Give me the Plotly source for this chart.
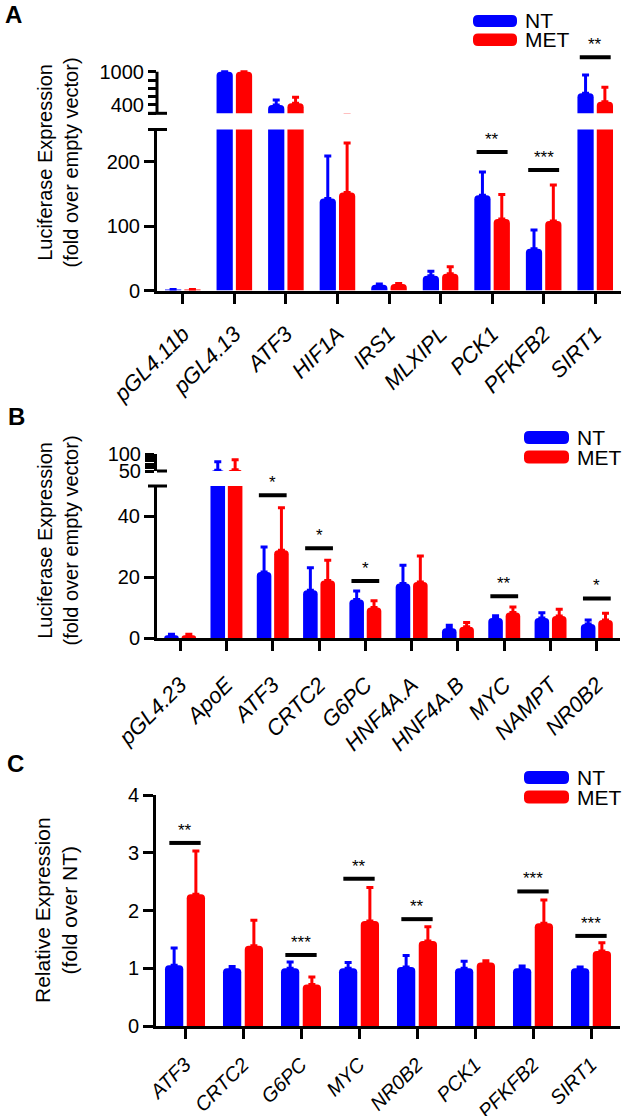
import plotly.graph_objects as go

W, H = 626, 1116
BLUE = '#0000FF'
RED = '#FF0000'
FONT = 'Liberation Sans, Arial, Helvetica, sans-serif'

# ---------------- Panel A data ----------------
cats_A = ['pGL4.11b', 'pGL4.13', 'ATF3', 'HIF1A', 'IRS1', 'MLXIPL', 'PCK1', 'PFKFB2', 'SIRT1']
nt_A = [1, 1000, 400, 143, 9, 23, 148, 65, 610]
nt_A_err = [0.5, None, 90, 66, 1, 7, 36, 29, 330]
met_A = [1, 1000, 430, 152, 10, 26, 111, 108, 459]
met_A_err = [0.5, None, 108, 77, 1, 11, 38, 56, 260]
sig_A_cats = ['PCK1', 'PFKFB2', 'SIRT1']
sig_A_y = [215, 187, 1260]
sig_A_text = ['**', '***', '**']

# ---------------- Panel B data ----------------
cats_B = ['pGL4.23', 'ApoE', 'ATF3', 'CRTC2', 'G6PC', 'HNF4A.A', 'HNF4A.B', 'MYC', 'NAMPT', 'NR0B2']
nt_B = [1, 52, 21.8, 15.8, 12.7, 18, 3.3, 6.7, 6.7, 4.7]
nt_B_err = [0.3, 25, 8.2, 7.4, 2.8, 6, 1, 0.7, 1.7, 1.3]
met_B = [1, 54, 28.9, 19, 10.1, 18.5, 3.8, 8.5, 7.3, 6]
met_B_err = [0.3, 29, 14, 6.6, 2.2, 8.5, 1.4, 1.8, 2.2, 2.2]
sig_B_cats = ['ATF3', 'CRTC2', 'G6PC', 'MYC', 'NR0B2']
sig_B_y = [47, 29.6, 18.8, 13.8, 13.1]
sig_B_text = ['*', '*', '*', '**', '*']

# ---------------- Panel C data ----------------
cats_C = ['ATF3', 'CRTC2', 'G6PC', 'MYC', 'NR0B2', 'PCK1', 'PFKFB2', 'SIRT1']
nt_C = [1.05, 1.0, 1.0, 1.0, 1.02, 1.0, 1.0, 1.0]
nt_C_err = [0.3, 0.03, 0.11, 0.1, 0.2, 0.12, 0.04, 0.02]
met_C = [2.28, 1.39, 0.72, 1.82, 1.47, 1.1, 1.78, 1.3]
met_C_err = [0.75, 0.44, 0.13, 0.58, 0.25, 0.03, 0.4, 0.14]
sig_C_cats = ['ATF3', 'G6PC', 'MYC', 'NR0B2', 'PFKFB2', 'SIRT1']
sig_C_y = [3.17, 1.23, 2.55, 1.85, 2.33, 1.56]
sig_C_text = ['**', '***', '**', '**', '***', '***']

series_names = ['NT', 'MET']


def X(p):
    return p / W


def Y(p):
    return 1 - p / H


fig = go.Figure()


def add_bars(cats, nt, nt_err, met, met_err, xa, ya):
    for name, vals, err, col in [(series_names[0], nt, nt_err, BLUE),
                                 (series_names[1], met, met_err, RED)]:
        fig.add_trace(go.Bar(
            x=cats, y=vals, name=name,
            marker=dict(color=col, line=dict(width=0)),
            error_y=dict(type='data', symmetric=False, array=err,
                         arrayminus=[0] * len(err), color=col,
                         thickness=3, width=3.5),
            xaxis=xa, yaxis=ya, showlegend=False))


# Panel A: lower (y) and upper (y2) segments of broken axis
add_bars(cats_A, nt_A, nt_A_err, met_A, met_A_err, 'x', 'y')
add_bars(cats_A, nt_A, nt_A_err, met_A, met_A_err, 'x', 'y2')
# Panel B: lower (y3) and upper (y4)
add_bars(cats_B, nt_B, nt_B_err, met_B, met_B_err, 'x2', 'y3')
add_bars(cats_B, nt_B, nt_B_err, met_B, met_B_err, 'x2', 'y4')
# Panel C
add_bars(cats_C, nt_C, nt_C_err, met_C, met_C_err, 'x3', 'y5')

axis_common = dict(showgrid=False, zeroline=False, linecolor='black', linewidth=3, automargin=False,
                   ticks='outside', tickcolor='black', tickwidth=3, ticklen=10,
                   tickfont=dict(family=FONT, size=20, color='black'))


def xfont(size):
    return dict(family=FONT, size=size, color='black', style='italic')


xcommon = dict(axis_common, type='category', showline=True, tickangle=-45)

fig.update_layout(
    template='none',
    width=W, height=H, autosize=False,
    margin=dict(l=0, r=0, t=0, b=0, pad=0),
    paper_bgcolor='white', plot_bgcolor='white',
    barmode='group', bargap=0.25, bargroupgap=0.16, barcornerradius=4,
    showlegend=False,
    font=dict(family=FONT, color='black'),
    xaxis=dict(xcommon, domain=[X(157), X(621)], anchor='y', range=[-0.5, 8.5],
               tickfont=xfont(22), ticklabelstandoff=9),
    yaxis=dict(axis_common, domain=[Y(290.5), Y(129.5)], anchor='x', range=[0, 250],
               showline=True, tickvals=[0, 100, 200]),
    yaxis2=dict(axis_common, domain=[Y(113.3), Y(40)], anchor='x',
                range=[250, 250 + (113.3 - 40) * 18.03], showline=False, ticklen=8,
                tickvals=[250, 400, 550, 700, 850, 1000],
                ticktext=['', '400', '', '', '', '1000']),
    xaxis2=dict(xcommon, domain=[X(157), X(620)], anchor='y3', range=[-0.5, 9.5],
                tickfont=xfont(22), ticklabelstandoff=12),
    yaxis3=dict(axis_common, domain=[Y(638.3), Y(486)], anchor='x2', range=[0, 50],
                showline=True, tickvals=[0, 20, 40]),
    yaxis4=dict(axis_common, domain=[Y(471), Y(454)], anchor='x2', range=[50, 100],
                showline=True, ticklen=9, tickvals=[50, 60, 70, 80, 90, 100],
                ticktext=['50', '', '', '', '', '100']),
    xaxis3=dict(xcommon, domain=[X(156), X(620)], anchor='y5', range=[-0.5, 7.5],
                tickfont=xfont(20), ticklabelstandoff=6),
    yaxis5=dict(axis_common, domain=[Y(1026), Y(795)], anchor='x3', range=[0, 4],
                showline=True, tickvals=[0, 1, 2, 3, 4]),
)

shapes = []
annotations = []

# upper axis line of A (250 -> 1000)
shapes.append(dict(type='line', xref='x domain', yref='y2', x0=0, x1=0, y0=250, y1=1000,
                   line=dict(color='black', width=3)))
# axis break marks
for yref, yv in [('y domain', 1), ('y2 domain', 0), ('y3 domain', 1)]:
    shapes.append(dict(type='line', xref='paper', yref=yref, x0=X(148), x1=X(167), y0=yv, y1=yv,
                       line=dict(color='black', width=3)))
shapes.append(dict(type='line', xref='paper', yref='y4 domain', x0=X(157), x1=X(167), y0=0, y1=0,
                   line=dict(color='black', width=3)))


def add_sig(cats, sig_cats, sig_y, sig_text, xa, ya_lower, ya_upper=None, split=None, half=0.3):
    for c, yv, t in zip(sig_cats, sig_y, sig_text):
        i = cats.index(c)
        ya = ya_lower
        if ya_upper is not None and yv > split:
            ya = ya_upper
        shapes.append(dict(type='line', xref=xa, yref=ya, x0=i - half, x1=i + half, y0=yv, y1=yv,
                           line=dict(color='black', width=4)))
        annotations.append(dict(xref=xa, yref=ya, x=i, y=yv, text=t, showarrow=False,
                                yanchor='bottom', xanchor='center', yshift=1,
                                font=dict(family=FONT, size=17, color='black')))


add_sig(cats_A, sig_A_cats, sig_A_y, sig_A_text, 'x', 'y', 'y2', 250, 0.3)
add_sig(cats_B, sig_B_cats, sig_B_y, sig_B_text, 'x2', 'y3', half=0.3)
add_sig(cats_C, sig_C_cats, sig_C_y, sig_C_text, 'x3', 'y5', half=0.27)


def rrect(x0, y0, x1, y1, r):
    return (f"M {X(x0 + r)},{Y(y0)} L {X(x1 - r)},{Y(y0)} Q {X(x1)},{Y(y0)} {X(x1)},{Y(y0 + r)} "
            f"L {X(x1)},{Y(y1 - r)} Q {X(x1)},{Y(y1)} {X(x1 - r)},{Y(y1)} "
            f"L {X(x0 + r)},{Y(y1)} Q {X(x0)},{Y(y1)} {X(x0)},{Y(y1 - r)} "
            f"L {X(x0)},{Y(y0 + r)} Q {X(x0)},{Y(y0)} {X(x0 + r)},{Y(y0)} Z")


# custom legends (wide rounded swatches)
legend_specs = [
    (473, 517, 523, [(15, 27), (33.5, 46)]),
    (524, 569, 575, [(431, 444), (450.5, 463.5)]),
    (524, 569, 575, [(771, 784), (790.5, 803.5)]),
]
for lx0, lx1, tx, rows in legend_specs:
    for (yy0, yy1), name, col in zip(rows, series_names, [BLUE, RED]):
        shapes.append(dict(type='path', xref='paper', yref='paper', path=rrect(lx0, yy0, lx1, yy1, 5),
                           fillcolor=col, line=dict(width=0)))
        annotations.append(dict(xref='paper', yref='paper', x=X(tx), y=Y((yy0 + yy1) / 2), text=name,
                                showarrow=False, xanchor='left', yanchor='middle',
                                font=dict(family=FONT, size=21, color='black')))

# axis titles
for txt, cx, cy, fs in [
    ('Luciferase Expression<br>(fold over empty vector)', 57.5, 163, 20),
    ('Luciferase Expression<br>(fold over empty vector)', 57.5, 541, 20),
    ('Relative Expression<br>(fold over NT)', 56, 910, 21),
]:
    annotations.append(dict(xref='paper', yref='paper', x=X(cx), y=Y(cy), text=txt, textangle=-90,
                            showarrow=False, xanchor='center', yanchor='middle',
                            font=dict(family=FONT, size=fs, color='black')))

# panel letters
for letter, lx, ly in [('A', 3, 14.5), ('B', 6, 416.5), ('C', 5, 763.5)]:
    annotations.append(dict(xref='paper', yref='paper', x=X(lx), y=Y(ly), text=f'<b>{letter}</b>',
                            showarrow=False, xanchor='left', yanchor='middle',
                            font=dict(family=FONT, size=24, color='black')))

fig.update_layout(shapes=shapes, annotations=annotations)
fig.write_html('out.html', config={'displayModeBar': False},
               post_script="document.body.style.margin='0px';document.body.style.overflow='hidden';")
